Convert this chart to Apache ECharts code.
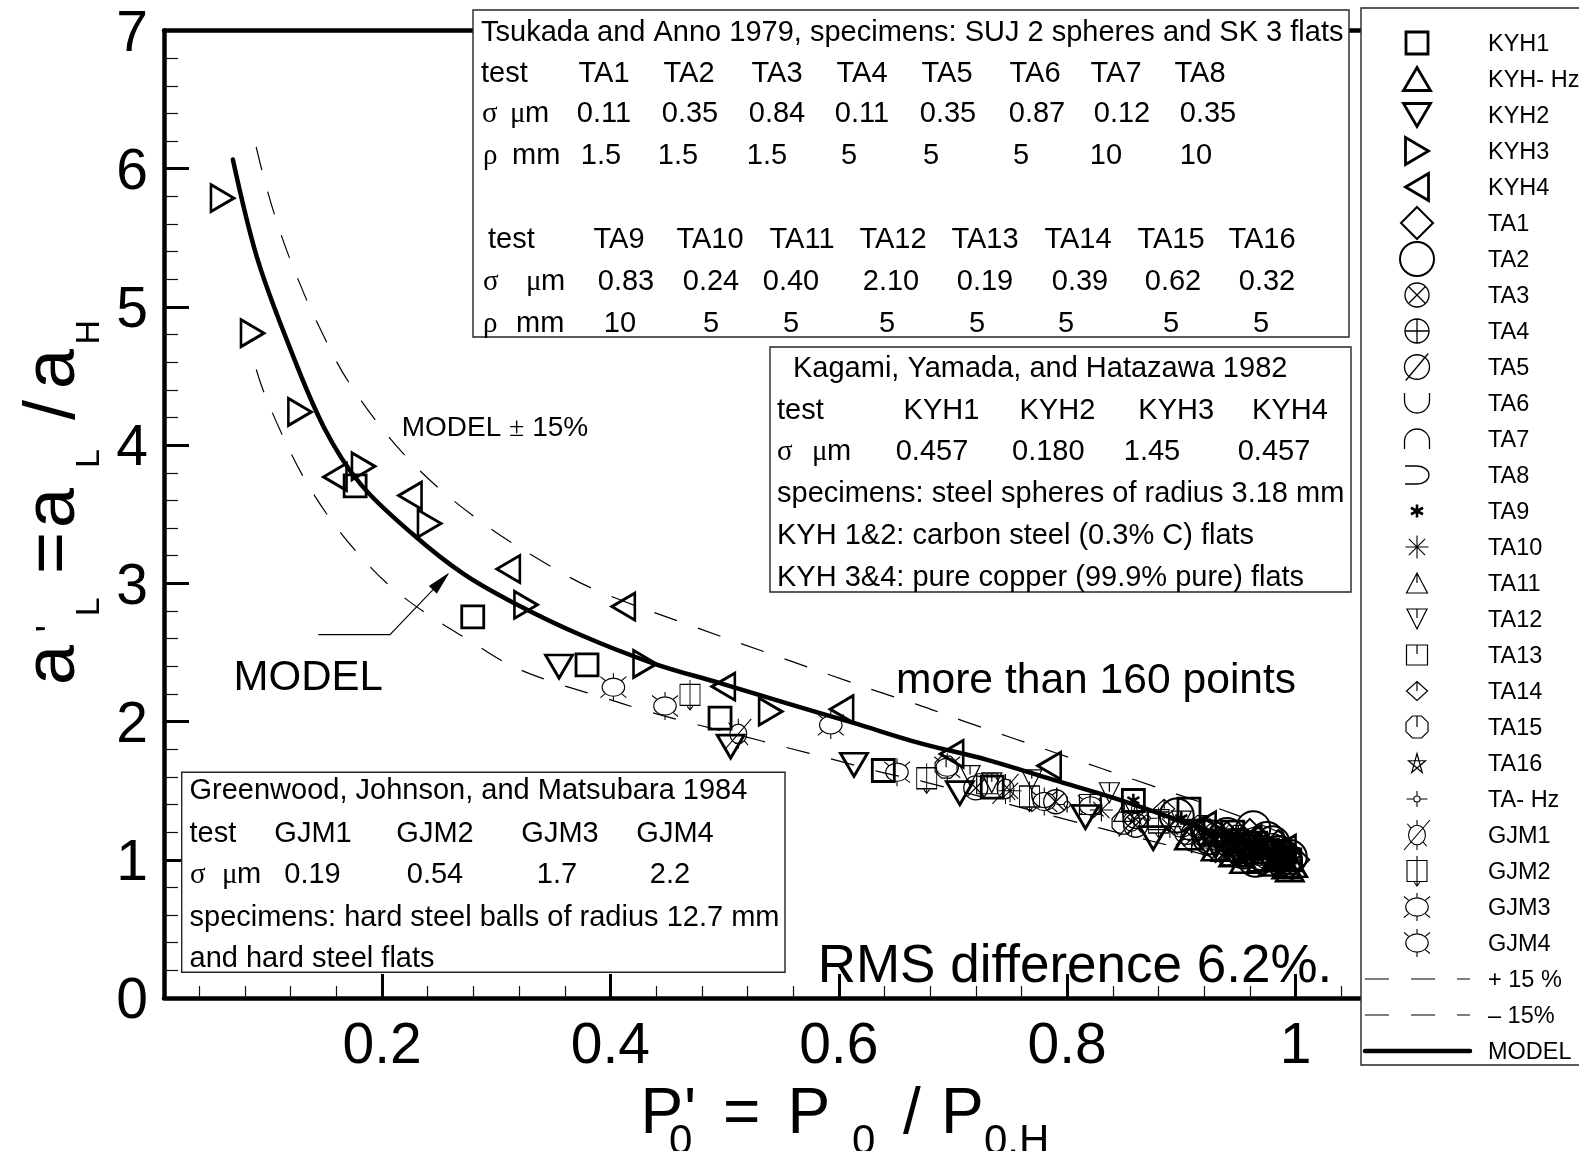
<!DOCTYPE html>
<html>
<head>
<meta charset="utf-8">
<script src="https://cdn.jsdelivr.net/npm/echarts@6/dist/echarts.min.js"></script>
<style>
  html, body { margin: 0; padding: 0; background: #fff; }
  #chart { width: 1579px; height: 1151px; }
</style>
</head>
<body>
<div id="chart"></div>
<script>
// ---------------- axes ----------------
const X_MIN = 0.009, X_MAX = 1.0565;
const Y_MIN = 0, Y_MAX = 7;
const xMajorTicks = [0.2, 0.4, 0.6, 0.8, 1.0];
const xTickLabels = ['0.2', '0.4', '0.6', '0.8', '1'];
const xMinorTicks = [0.04, 0.08, 0.12, 0.16, 0.24, 0.28, 0.32, 0.36, 0.44, 0.48, 0.52, 0.56,
                     0.64, 0.68, 0.72, 0.76, 0.84, 0.88, 0.92, 0.96, 1.04];
const yMajorTicks = [0, 1, 2, 3, 4, 5, 6, 7];
const yTickLabels = ['0', '1', '2', '3', '4', '5', '6', '7'];
const yMinorTicks = [0.2, 0.4, 0.6, 0.8, 1.2, 1.4, 1.6, 1.8, 2.2, 2.4, 2.6, 2.8, 3.2, 3.4, 3.6, 3.8,
                     4.2, 4.4, 4.6, 4.8, 5.2, 5.4, 5.6, 5.8, 6.2, 6.4, 6.6, 6.8];

// ---------------- curves ----------------
const modelCurve = [[0.0693, 6.067], [0.0903, 5.362], [0.1166, 4.76], [0.149, 4.13], [0.181, 3.72],
  [0.227, 3.355], [0.271, 3.07], [0.315, 2.86], [0.373, 2.63], [0.438, 2.42], [0.496, 2.278],
  [0.554, 2.133], [0.613, 1.99], [0.671, 1.844], [0.73, 1.723], [0.788, 1.578], [0.846, 1.434],
  [0.905, 1.265], [1.0, 1.0]];
const upperBand = [[0.0897, 6.158], [0.099, 5.857], [0.1122, 5.507], [0.1267, 5.194], [0.1428, 4.892],
  [0.172, 4.44], [0.223, 3.90], [0.2843, 3.46], [0.356, 3.083], [0.394, 2.928], [0.4712, 2.692],
  [0.551, 2.458], [0.63, 2.229], [0.6696, 2.121], [0.7105, 2.0], [0.791, 1.771], [0.8696, 1.549],
  [0.948, 1.325], [1.0, 1.15]];
const lowerBand = [[0.0898, 4.547], [0.0961, 4.392], [0.1122, 4.081], [0.1311, 3.77], [0.153, 3.485],
  [0.1778, 3.226], [0.207, 2.98], [0.2405, 2.772], [0.2756, 2.591], [0.312, 2.409], [0.3515, 2.28],
  [0.391, 2.181], [0.43, 2.08], [0.471, 1.988], [0.512, 1.904], [0.553, 1.815], [0.594, 1.728],
  [0.635, 1.638], [0.674, 1.566], [0.798, 1.294], [0.9207, 1.036], [1.0, 0.85]];

// ---------------- measurements ----------------
const kyh1 = [[0.1764, 3.705], [0.2794, 2.757], [0.3795, 2.41], [0.496, 2.025], [0.639, 1.646],
  [0.7344, 1.526], [0.858, 1.429], [0.9067, 1.367], [0.945, 1.2], [0.965, 1.12], [0.985, 1.06], [0.995, 1.0]];
const kyhHz = [[0.9067, 1.159], [0.93, 1.08], [0.9455, 1.036], [0.955, 0.99], [0.96, 1.06], [0.97, 1.0],
  [0.98, 0.97], [0.985, 1.02], [0.992, 0.95], [0.995, 0.928], [0.998, 0.96]];
const kyh2 = [[0.355, 2.398], [0.5053, 1.819], [0.6133, 1.687], [0.706, 1.482], [0.816, 1.309],
  [0.8754, 1.157], [0.93, 1.1], [0.95, 1.05], [0.96, 1.03], [0.985, 0.98], [0.99, 1.0]];
const kyh3 = [[0.0602, 5.787], [0.0865, 4.81], [0.128, 4.24], [0.1837, 3.847], [0.2415, 3.433],
  [0.326, 2.845], [0.4303, 2.417], [0.5403, 2.072], [0.93, 1.2], [0.975, 1.1], [0.99, 1.05]];
const kyh4 = [[0.1588, 3.77], [0.2245, 3.635], [0.3106, 3.104], [0.4113, 2.832], [0.4989, 2.253],
  [0.6025, 2.09], [0.6989, 1.766], [0.7843, 1.68], [0.92, 1.25], [0.96, 1.15], [0.99, 1.08]];
const ta1 = [[0.93, 1.1], [0.94, 1.16], [0.955, 1.12], [0.96, 1.18], [0.97, 1.0], [0.975, 1.07],
  [0.985, 1.1], [0.99, 1.03], [0.998, 1.0]];
const ta2 = [[0.896, 1.32], [0.925, 1.163], [0.94, 1.18], [0.95, 1.1], [0.955, 1.06], [0.963, 1.229],
  [0.965, 1.0], [0.97, 1.05], [0.975, 1.15], [0.98, 1.12], [0.985, 1.05], [0.99, 0.99], [0.995, 1.02]];
const ta3 = [[0.72, 1.52], [0.79, 1.42], [0.86, 1.25], [0.91, 1.16], [0.94, 1.05], [0.95, 1.09],
  [0.965, 1.15], [0.98, 1.03], [0.99, 1.06]];
const ta4 = [[0.93, 1.18], [0.945, 1.13], [0.96, 1.1], [0.975, 1.02], [0.985, 1.04], [0.995, 1.0]];
const ta5 = [[0.905, 1.2], [0.94, 1.12], [0.955, 1.04], [0.97, 1.06], [0.98, 1.1], [0.99, 1.01]];
const ta6 = [[0.78, 1.45], [0.86, 1.3], [0.92, 1.17], [0.94, 1.1], [0.96, 1.08], [0.985, 1.0]];
const ta7 = [[0.92, 1.12], [0.95, 1.13], [0.96, 1.04], [0.975, 1.08], [0.995, 1.02]];
const ta8 = [[0.93, 1.15], [0.95, 1.06], [0.965, 1.09], [0.985, 1.08], [0.99, 1.02]];
const ta9 = [[0.858, 1.43], [0.9, 1.3], [0.95, 1.15], [0.98, 1.06]];
const ta10 = [[0.75, 1.5], [0.83, 1.36], [0.89, 1.24], [0.94, 1.14], [0.96, 1.08], [0.975, 1.05], [0.99, 1.0]];
const ta11 = [[0.85, 1.35], [0.91, 1.22], [0.935, 1.06], [0.955, 1.12], [0.97, 1.12], [0.985, 1.04]];
const ta12 = [[0.715, 1.609], [0.734, 1.557], [0.769, 1.578], [0.837, 1.485], [0.9, 1.28], [0.95, 1.15]];
const ta13 = [[0.73, 1.55], [0.82, 1.4], [0.88, 1.29], [0.94, 1.15], [0.955, 1.1], [0.975, 1.08], [0.99, 1.04]];
const ta14 = [[0.885, 1.369], [0.92, 1.25], [0.945, 1.08], [0.96, 1.14], [0.975, 1.0], [0.99, 1.05]];
const ta15 = [[0.694, 1.67], [0.849, 1.265], [0.918, 1.241], [0.935, 1.2], [0.95, 1.17], [0.97, 1.04], [0.98, 1.08]];
const ta16 = [[0.86, 1.33], [0.92, 1.2], [0.945, 1.17], [0.965, 1.1], [0.98, 1.0], [0.99, 1.03]];
const taHz = [[0.8, 1.4], [0.87, 1.3], [0.93, 1.19], [0.95, 1.07], [0.97, 1.1], [0.985, 0.99], [0.995, 1.02]];
const gjm1 = [[0.512, 1.911], [0.746, 1.513], [0.8565, 1.277], [0.93, 1.14], [0.97, 1.07]];
const gjm2 = [[0.4697, 2.193], [0.677, 1.59], [0.767, 1.458], [0.88, 1.27], [0.95, 1.12]];
const gjm3 = [[0.4026, 2.249], [0.593, 1.976], [0.78, 1.422], [0.8207, 1.39], [0.91, 1.2], [0.96, 1.11]];
const gjm4 = [[0.4478, 2.113], [0.651, 1.634], [0.695, 1.67], [0.9, 1.23], [0.965, 1.12]];

// ---------------- table texts ----------------
const taTestsA = ['TA1', 'TA2', 'TA3', 'TA4', 'TA5', 'TA6', 'TA7', 'TA8'];
const taSigmaA = ['0.11', '0.35', '0.84', '0.11', '0.35', '0.87', '0.12', '0.35'];
const taRhoA = ['1.5', '1.5', '1.5', '5', '5', '5', '10', '10'];
const taTestsB = ['TA9', 'TA10', 'TA11', 'TA12', 'TA13', 'TA14', 'TA15', 'TA16'];
const taSigmaB = ['0.83', '0.24', '0.40', '2.10', '0.19', '0.39', '0.62', '0.32'];
const taRhoB = ['10', '5', '5', '5', '5', '5', '5', '5'];
const kyhTests = ['KYH1', 'KYH2', 'KYH3', 'KYH4'];
const kyhSigma = ['0.457', '0.180', '1.45', '0.457'];
const gjmTests = ['GJM1', 'GJM2', 'GJM3', 'GJM4'];
const gjmSigma = ['0.19', '0.54', '1.7', '2.2'];

// ---------------- marker shapes ----------------
const CIRC = 'M0,10A10,10,0,1,0,20,10A10,10,0,1,0,0,10Z';
const RAYCIRC = 'M3.5,10A6.5,6.5,0,1,0,16.5,10A6.5,6.5,0,1,0,3.5,10Z';
const SHAPES = {
  square: 'M0,0L20,0L20,20L0,20Z',
  triUp: 'M10,0L20,18L0,18Z',
  triDown: 'M0,0L20,0L10,18Z',
  triRight: 'M0,0L18,10L0,20Z',
  triLeft: 'M18,0L0,10L18,20Z',
  diamond: 'M10,0L20,10L10,20L0,10Z',
  circle: CIRC,
  circleX: CIRC + 'M2.93,2.93L17.07,17.07M17.07,2.93L2.93,17.07',
  circlePlus: CIRC + 'M0,10L20,10M10,0L10,20',
  circleSlash: CIRC + 'M1,21L19,-1',
  cup: 'M0,0L0,6A10,10,0,0,0,20,6L20,0',
  cap: 'M0,16L0,10A10,10,0,0,1,20,10L20,16',
  sup: 'M0,0L8,0A8,8,0,0,1,8,16L0,16',
  aster6: 'M10,0L10,20M1.34,5L18.66,15M18.66,5L1.34,15',
  aster8: 'M10,0L10,20M0,10L20,10M2.93,2.93L17.07,17.07M17.07,2.93L2.93,17.07',
  triUpBar: 'M10,0L20,18L0,18ZM10,0L10,9',
  triDownBar: 'M0,0L20,0L10,18ZM10,0L10,8',
  squareBar: 'M0,0L20,0L20,20L0,20ZM10,0L10,9',
  diamondBar: 'M10,0L20,10L10,20L0,10ZM10,0L10,10',
  octBar: 'M19.24,13.83L13.83,19.24L6.17,19.24L0.76,13.83L0.76,6.17L6.17,0.76L13.83,0.76L19.24,6.17ZM10,0.76L10,10',
  pentagram: 'M10,0L15.88,18.09L0.49,6.91L19.51,6.91L4.12,18.09Z',
  crossHair: 'M7,10A3,3,0,1,0,13,10A3,3,0,1,0,7,10ZM0,10L7,10M13,10L20,10M10,2L10,7M10,13L10,18',
  rayA: RAYCIRC + 'M10,3.5L10,0M10,16.5L10,20M14.6,5.4L17.5,2.5M5.4,14.6L2.5,17.5M14.6,14.6L17.5,17.5M5.4,5.4L2.5,2.5',
  rayB: RAYCIRC + 'M10,3.5L10,0M10,16.5L10,20M5.4,5.4L2.5,2.5M14.6,14.6L17.5,17.5M14.6,5.4L17.5,2.5',
  raySlash: RAYCIRC + 'M10,3.5L10,0M10,16.5L10,20M14.6,14.6L17.5,17.5M5.4,5.4L2.5,2.5M0,20L20,0',
  boxArrow: 'M3,3L17,3L17,17L3,17ZM10,0L10,20M8,17.5L10,20L12,17.5'
};

// name, data, shape, size [w,h], stroke width
const markerSets = [
  ['KYH1', kyh1, 'square', [22, 22], 2.8],
  ['KYH- Hz', kyhHz, 'triUp', [27, 23], 2.8],
  ['KYH2', kyh2, 'triDown', [27, 23], 2.8],
  ['KYH3', kyh3, 'triRight', [23, 27], 2.8],
  ['KYH4', kyh4, 'triLeft', [23, 27], 2.8],
  ['TA1', ta1, 'diamond', [32, 32], 2.0],
  ['TA2', ta2, 'circle', [34, 34], 2.0],
  ['TA3', ta3, 'circleX', [24, 24], 1.3],
  ['TA4', ta4, 'circlePlus', [24, 24], 1.3],
  ['TA5', ta5, 'circleSlash', [25, 27], 1.3],
  ['TA6', ta6, 'cup', [25, 20], 1.3],
  ['TA7', ta7, 'cap', [25, 20], 1.3],
  ['TA8', ta8, 'sup', [24, 18], 1.3],
  ['TA9', ta9, 'aster6', [12, 13], 2.6],
  ['TA10', ta10, 'aster8', [23, 23], 1.1],
  ['TA11', ta11, 'triUpBar', [21, 20], 1.2],
  ['TA12', ta12, 'triDownBar', [20, 20], 1.2],
  ['TA13', ta13, 'squareBar', [21, 20], 1.2],
  ['TA14', ta14, 'diamondBar', [21, 19], 1.2],
  ['TA15', ta15, 'octBar', [22, 22], 1.2],
  ['TA16', ta16, 'pentagram', [17, 19], 1.2],
  ['TA- Hz', taHz, 'crossHair', [21, 16], 1.1],
  ['GJM1', gjm1, 'raySlash', [26, 30], 1.1],
  ['GJM2', gjm2, 'boxArrow', [20, 30], 1.1],
  ['GJM3', gjm3, 'rayA', [26, 28], 1.1],
  ['GJM4', gjm4, 'rayB', [26, 28], 1.1]
];

const SANS = 'Liberation Sans, Arial, sans-serif';
const SERIF = 'Liberation Serif, Times New Roman, serif';
const BAND_DASH = [24, 22];

// ---------------- series ----------------
const series = markerSets.map(([name, data, shape, size, lw]) => ({
  type: 'scatter', name, data,
  symbol: 'path://' + SHAPES[shape], symbolSize: size,
  itemStyle: { color: 'transparent', borderColor: '#000', borderWidth: lw, opacity: 1 },
  silent: true, z: 3
}));
series.push({
  type: 'line', name: '+ 15 %', data: upperBand, smooth: 0.35,
  symbol: 'none', lineStyle: { color: '#000', width: 1.2, type: BAND_DASH }, silent: true, z: 4
});
series.push({
  type: 'line', name: '– 15%', data: lowerBand, smooth: 0.35,
  symbol: 'none', lineStyle: { color: '#000', width: 1.2, type: BAND_DASH }, silent: true, z: 4
});
series.push({
  type: 'line', name: 'MODEL', data: modelCurve, smooth: 0.35,
  symbol: 'none', lineStyle: { color: '#000', width: 4.5, cap: 'round' }, silent: true, z: 5
});

// legend panel entries: marker rows, then line rows
const LEG_X = 1417, LEG_TX = 1488, LEG_Y0 = 43, LEG_DY = 36, LEG_FONT = 23.5;
const lineEntries = [['+ 15 %', 1.2, BAND_DASH], ['– 15%', 1.2, BAND_DASH], ['MODEL', 4.5, null]];
const legendRows = markerSets.map(([name, , shape, size, lw]) => ({ name, shape, size, lw }))
  .concat(lineEntries.map(([name, lw, dash]) => ({ name, lw, dash, line: true })));
series.push({
  type: 'custom', coordinateSystem: 'none', silent: true, z: 130,
  data: legendRows.map((r, i) => [i]),
  renderItem: (params) => {
    const i = params.dataIndex;
    const r = legendRows[i];
    const cy = LEG_Y0 + i * LEG_DY;
    const children = [];
    if (r.line) {
      const st = { stroke: '#000', lineWidth: r.lw, lineCap: r.dash ? 'butt' : 'round' };
      if (r.dash) st.lineDash = r.dash;
      children.push({ type: 'line', shape: { x1: 1365, y1: cy, x2: 1470, y2: cy }, style: st });
    } else {
      children.push({ type: 'path',
        shape: { pathData: SHAPES[r.shape], layout: 'cover',
                 x: LEG_X - r.size[0] / 2, y: cy - r.size[1] / 2, width: r.size[0], height: r.size[1] },
        style: { fill: 'none', stroke: '#000', lineWidth: r.lw } });
    }
    children.push({ type: 'text', x: LEG_TX, y: cy + 0.07 * LEG_FONT,
      style: { text: r.name, fontSize: LEG_FONT, fontFamily: SANS, fill: '#000', align: 'left', verticalAlign: 'middle' } });
    return { type: 'group', children };
  }
});

// ---------------- graphic helpers ----------------
const gfx = [];
function txt(x, y, str, size, align, extra) {
  gfx.push({
    type: 'text', x, y: y + 0.07 * size, z: 120, silent: true,
    style: Object.assign({
      text: str, fontSize: size, fontFamily: SANS, fill: '#000',
      align: align || 'left', verticalAlign: 'middle'
    }, extra || {})
  });
}
function greek(x, y, str, size) {
  txt(x, y, str, size, 'left', { fontFamily: SERIF });
}
function box(x, y, w, h) {
  gfx.push({ type: 'rect', z: 110, silent: true, shape: { x, y, width: w, height: h },
    style: { fill: '#fff', stroke: '#262626', lineWidth: 1.4 } });
}

// Tsukada & Anno table
box(473, 10, 876, 327);
const TF = 29;
txt(481, 30.5, 'Tsukada and Anno 1979, specimens: SUJ 2 spheres and SK 3 flats', TF);
const rowA = [71.5, 112, 154];
const colTA = [604, 689, 777, 862, 947, 1035, 1116, 1200];
const colSA = [604, 690, 777, 862, 948, 1037, 1122, 1208];
const colRA = [601, 678, 767, 849, 931, 1021, 1106, 1196];
txt(481, rowA[0], 'test', TF);
greek(482, rowA[1], 'σ', TF); greek(510, rowA[1], 'μ', TF); txt(525, rowA[1], 'm', TF);
greek(483, rowA[2], 'ρ', TF); txt(512, rowA[2], 'mm', TF);
taTestsA.forEach((s, i) => txt(colTA[i], rowA[0], s, TF, 'center'));
taSigmaA.forEach((s, i) => txt(colSA[i], rowA[1], s, TF, 'center'));
taRhoA.forEach((s, i) => txt(colRA[i], rowA[2], s, TF, 'center'));
const rowB = [238, 280, 322];
const colTB = [619, 710, 802, 893, 985, 1078, 1171, 1262];
const colSB = [626, 711, 791, 891, 985, 1080, 1173, 1267];
const colRB = [620, 711, 791, 887, 977, 1066, 1171, 1261];
txt(488, rowB[0], 'test', TF);
greek(483, rowB[1], 'σ', TF); greek(526, rowB[1], 'μ', TF); txt(541, rowB[1], 'm', TF);
greek(483, rowB[2], 'ρ', TF); txt(516, rowB[2], 'mm', TF);
taTestsB.forEach((s, i) => txt(colTB[i], rowB[0], s, TF, 'center'));
taSigmaB.forEach((s, i) => txt(colSB[i], rowB[1], s, TF, 'center'));
taRhoB.forEach((s, i) => txt(colRB[i], rowB[2], s, TF, 'center'));

// Kagami, Yamada & Hatazawa table
box(770, 347, 581, 245);
const rowK = [366.5, 408.8, 450, 492.4, 533.7, 576];
txt(793, rowK[0], 'Kagami, Yamada, and Hatazawa 1982', TF);
txt(777, rowK[1], 'test', TF);
[941.5, 1057.4, 1176.2, 1290].forEach((c, i) => txt(c, rowK[1], kyhTests[i], TF, 'center'));
greek(777, rowK[2], 'σ', TF); greek(812, rowK[2], 'μ', TF); txt(827, rowK[2], 'm', TF);
[932, 1048.3, 1152, 1274].forEach((c, i) => txt(c, rowK[2], kyhSigma[i], TF, 'center'));
txt(777, rowK[3], 'specimens: steel spheres of radius 3.18 mm', TF);
txt(777, rowK[4], 'KYH 1&2: carbon steel (0.3% C) flats', TF);
txt(777, rowK[5], 'KYH 3&4: pure copper (99.9% pure) flats', TF);

// Greenwood, Johnson & Matsubara table
box(181.7, 772.3, 603.3, 200);
const rowG = [789, 831.5, 873, 915.5, 956.5];
txt(189.5, rowG[0], 'Greenwood, Johnson, and Matsubara 1984', TF);
txt(189.5, rowG[1], 'test', TF);
[313, 435, 560, 675].forEach((c, i) => txt(c, rowG[1], gjmTests[i], TF, 'center'));
greek(190, rowG[2], 'σ', TF); greek(222, rowG[2], 'μ', TF); txt(237, rowG[2], 'm', TF);
[312.5, 435, 557, 670].forEach((c, i) => txt(c, rowG[2], gjmSigma[i], TF, 'center'));
txt(189.5, rowG[3], 'specimens: hard steel balls of radius 12.7 mm', TF);
txt(189.5, rowG[4], 'and hard steel flats', TF);

// in-plot notes
txt(401.7, 426.7, 'MODEL {s|±} 15%', 28, 'left', { rich: { s: { fontFamily: SERIF, fontSize: 28 } } });
txt(233.6, 675, 'MODEL', 42);
txt(896, 678, 'more than 160 points', 42.6);
txt(817.7, 964, 'RMS difference 6.2%.', 53);
gfx.push({ type: 'polyline', z: 115, silent: true,
  shape: { points: [[318.3, 634.6], [390, 634.6], [433.1, 589.6]] },
  style: { stroke: '#000', lineWidth: 1.1, fill: null } });
gfx.push({ type: 'polygon', z: 115, silent: true,
  shape: { points: [[448.3, 573.7], [436.7, 593.1], [429.5, 586.1]] },
  style: { fill: '#000', stroke: '#000', lineWidth: 1 } });

// axis titles
const XT = 64, XS = 42;
[['P', 640.5, 0], ["'", 684, 0], ['0', 669, 1], ['=', 723, 0], ['P', 787.5, 0], ['0', 852, 1],
 ['/', 903, 0], ['P', 941, 0], ['0,H', 984, 1]].forEach(([s, x, sub]) => {
  txt(x, sub ? 1139 : 1111, s, sub ? XS : XT);
});
const YT = 72, YS = 34;
const yTitleParts = [['a', 1], ['=', 112], ['a', 158], ['/', 266], ['a', 297]];
const yTitleSubs = [['L', 69.7], ['L', 218], ['H', 341.6]];
const yChildren = [];
yTitleParts.forEach(([s, x]) => yChildren.push({ type: 'text', x, y: -0.3465 * YT, silent: true,
  style: { text: s, fontSize: YT, fontFamily: SANS, fill: '#000', align: 'left', verticalAlign: 'middle' } }));
yTitleSubs.forEach(([s, x]) => yChildren.push({ type: 'text', x, y: 10.6, silent: true,
  style: { text: s, fontSize: YS, fontFamily: SANS, fill: '#000', align: 'left', verticalAlign: 'middle' } }));
yChildren.push({ type: 'text', x: 53.6, y: -26, silent: true,
  style: { text: "'", fontSize: 40, fontFamily: SANS, fill: '#000', align: 'left', verticalAlign: 'middle' } });
gfx.push({ type: 'group', x: 79, y: 686, rotation: Math.PI / 2, z: 120, children: yChildren });

// legend panel frame
box(1361, 8, 240, 1057);

// ---------------- chart ----------------
const chart = echarts.init(document.getElementById('chart'), null, { renderer: 'canvas' });
const hidden = { show: false };
chart.setOption({
  animation: false,
  backgroundColor: '#fff',
  grid: { left: 164, top: 30.5, right: 219, bottom: 153, containLabel: false },
  xAxis: [
    { type: 'value', min: X_MIN, max: X_MAX, position: 'bottom',
      axisLine: { show: true, onZero: false, lineStyle: { color: '#000', width: 4.5 } },
      axisTick: { show: true, inside: true, length: 24, customValues: xMajorTicks,
                  lineStyle: { color: '#000', width: 3 } },
      axisLabel: { show: true, customValues: xMajorTicks, margin: 21, fontSize: 57, fontFamily: SANS, color: '#000',
                   formatter: v => xTickLabels[xMajorTicks.indexOf(v)] },
      splitLine: hidden },
    { type: 'value', min: X_MIN, max: X_MAX, position: 'bottom',
      axisLine: { show: false, onZero: false },
      axisTick: { show: true, inside: true, length: 12, customValues: xMinorTicks,
                  lineStyle: { color: '#111', width: 1.2 } },
      axisLabel: hidden, splitLine: hidden },
    { type: 'value', min: X_MIN, max: X_MAX, position: 'top',
      axisLine: { show: true, onZero: false, lineStyle: { color: '#000', width: 4.5 } },
      axisTick: hidden, axisLabel: hidden, splitLine: hidden }
  ],
  yAxis: [
    { type: 'value', min: Y_MIN, max: Y_MAX, position: 'left',
      axisLine: { show: true, onZero: false, lineStyle: { color: '#000', width: 4.5 } },
      axisTick: { show: true, inside: true, length: 25, customValues: yMajorTicks,
                  lineStyle: { color: '#000', width: 3 } },
      axisLabel: { show: true, customValues: yMajorTicks, margin: 16, color: '#000',
                   formatter: v => '{v|' + yTickLabels[yMajorTicks.indexOf(v)] + '}',
                   rich: { v: { fontSize: 57, fontFamily: SANS, color: '#000', padding: [9, 0, 0, 0] } } },
      splitLine: hidden },
    { type: 'value', min: Y_MIN, max: Y_MAX, position: 'left',
      axisLine: { show: false, onZero: false },
      axisTick: { show: true, inside: true, length: 14, customValues: yMinorTicks,
                  lineStyle: { color: '#111', width: 1.2 } },
      axisLabel: hidden, splitLine: hidden }
  ],
  series,
  graphic: { elements: gfx }
});
</script>
</body>
</html>
